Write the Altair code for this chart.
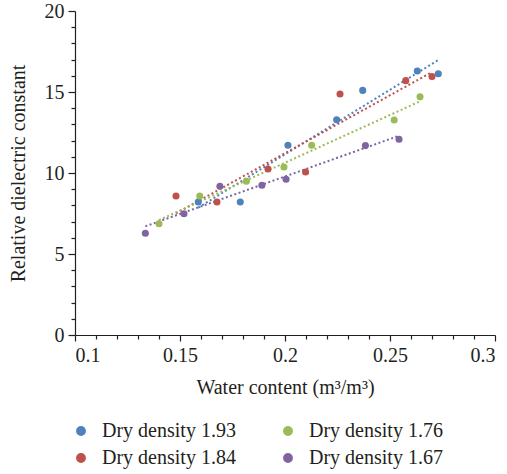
import altair as alt
import pandas as pd

# Data
names = ["Dry density 1.93", "Dry density 1.84", "Dry density 1.76", "Dry density 1.67"]

x_193 = [0.1587, 0.1787, 0.2014, 0.2246, 0.2370, 0.2630, 0.2730]
y_193 = [8.21, 8.21, 11.71, 13.29, 15.10, 16.30, 16.13]

x_184 = [0.1481, 0.1676, 0.1919, 0.2098, 0.2262, 0.2575, 0.2700]
y_184 = [8.58, 8.21, 10.25, 10.06, 14.88, 15.70, 15.95]

x_176 = [0.1400, 0.1594, 0.1816, 0.1995, 0.2127, 0.2520, 0.2643]
y_176 = [6.87, 8.58, 9.49, 10.37, 11.71, 13.27, 14.70]

x_167 = [0.1335, 0.1519, 0.1690, 0.1890, 0.2005, 0.2383, 0.2543]
y_167 = [6.28, 7.49, 9.18, 9.24, 9.61, 11.69, 12.08]

x_major = [0.1, 0.15, 0.2, 0.25, 0.3]
x_minor = [0.11, 0.12, 0.13, 0.14, 0.16, 0.17, 0.18, 0.19, 0.21, 0.22, 0.23, 0.24, 0.26, 0.27, 0.28, 0.29]
y_major = [0, 5, 10, 15, 20]
y_minor = [1, 2, 3, 4, 6, 7, 8, 9, 11, 12, 13, 14, 16, 17, 18, 19]

legend_order = ["Dry density 1.93", "Dry density 1.76", "Dry density 1.84", "Dry density 1.67"]
legend_colors = ["#4F81BD", "#9BBB59", "#C0504D", "#8064A2"]

frames = []
for n, xs, ys in zip(names, [x_193, x_184, x_176, x_167], [y_193, y_184, y_176, y_167]):
    frames.append(pd.DataFrame({"x": xs, "y": ys, "series": n}))
df = pd.concat(frames, ignore_index=True)

FONT = "Liberation Serif"
TXT = "#231f20"
FS = 20

x_scale = alt.Scale(domain=[0.1, 0.3], nice=False, zero=False)
y_scale = alt.Scale(domain=[0, 20], nice=False)
c_scale = alt.Scale(domain=legend_order, range=legend_colors)

legend = alt.Legend(
    title=None, orient="none", legendX=-4, legendY=410, columns=2,
    symbolType="circle", symbolSize=70, labelFont=FONT, labelFontSize=FS,
    labelColor=TXT, rowPadding=7, columnPadding=42, labelOffset=11,
    direction="horizontal")

points = alt.Chart(df).mark_circle(size=50, opacity=1).encode(
    x=alt.X("x:Q", scale=x_scale, axis=alt.Axis(
        values=x_major, format="~g", orient="bottom",
        title="Water content (m³/m³)", tickSize=6, labelPadding=4,
        titlePadding=12)),
    y=alt.Y("y:Q", scale=y_scale, axis=alt.Axis(
        values=y_major, format="~g", orient="left",
        title="Relative dielectric constant", tickSize=7, labelPadding=4,
        titlePadding=16)),
    color=alt.Color("series:N", scale=c_scale, legend=legend),
)

lines = alt.Chart(df).transform_regression(
    "x", "y", groupby=["series"]
).mark_line(strokeDash=[2, 2.5], strokeWidth=2).encode(
    x=alt.X("x:Q", scale=x_scale, axis=None),
    y=alt.Y("y:Q", scale=y_scale, axis=None),
    color=alt.Color("series:N", scale=c_scale, legend=legend),
)

minor = alt.Chart(df).mark_point(opacity=0).encode(
    x=alt.X("x:Q", scale=x_scale, axis=alt.Axis(
        values=x_minor, labels=False, domain=False, orient="bottom",
        title=None, tickSize=4)),
    y=alt.Y("y:Q", scale=y_scale, axis=alt.Axis(
        values=y_minor, labels=False, domain=False, orient="left",
        title=None, tickSize=4)),
)

chart = alt.layer(minor, lines, points).resolve_axis(
    x="independent", y="independent"
).properties(
    width=420, height=324,
    autosize=alt.AutoSizeParams(type="none"),
    padding={"left": 75, "top": 11, "right": 12, "bottom": 139},
).configure_view(stroke=None).configure_axis(
    grid=False, domainColor="#231f20", tickColor="#231f20", domainWidth=1.2,
    tickWidth=1.2, labelFont=FONT, labelFontSize=FS, labelColor=TXT,
    titleFont=FONT, titleFontSize=FS, titleFontWeight="normal", titleColor=TXT,
)

chart.save("out.html", embed_options={"renderer": "svg", "actions": False})
